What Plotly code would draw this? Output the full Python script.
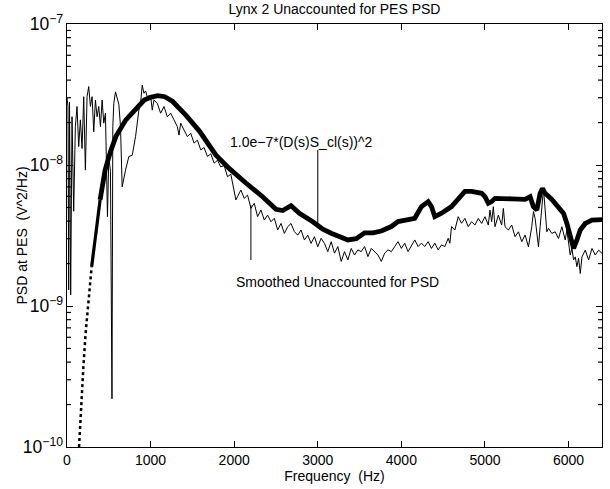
import numpy as np
import plotly.graph_objects as go

# ---- model curve: 1.0e-7*(D(s)S_cl(s))^2 ----
model_freq = [144, 172, 196, 223, 256, 295, 343, 396, 456, 516, 584, 704, 804, 924,
              1000, 1084, 1170, 1264, 1424, 1584, 1780, 1936, 2140, 2340, 2500, 2580,
              2680, 2780, 2940, 3060, 3160, 3360, 3460, 3560, 3660, 3760, 3880, 3960,
              4160, 4240, 4320, 4360, 4400, 4480, 4600, 4680, 4760, 4840, 4960, 5000,
              5040, 5080, 5120, 5320, 5480, 5540, 5580, 5620, 5660, 5688, 5720, 5800,
              5880, 5940, 5980, 6020, 6060, 6100, 6140, 6200, 6280, 6400]
model_psd = [1.0e-10, 2.15e-10, 3.7e-10, 6.45e-10, 1.10e-9, 1.90e-9, 3.3e-9, 5.65e-9,
             9.2e-9, 1.22e-8, 1.59e-8, 2.09e-8, 2.45e-8, 2.89e-8, 3.02e-8, 3.1e-8,
             3.05e-8, 2.82e-8, 2.25e-8, 1.74e-8, 1.18e-8, 9.5e-9, 7.45e-9, 5.96e-9,
             4.85e-9, 4.75e-9, 5.15e-9, 4.55e-9, 3.96e-9, 3.5e-9, 3.28e-9, 2.94e-9,
             3.0e-9, 3.3e-9, 3.3e-9, 3.4e-9, 3.66e-9, 3.97e-9, 4.19e-9, 5.07e-9, 5.5e-9,
             5.07e-9, 4.3e-9, 4.55e-9, 5.07e-9, 5.8e-9, 6.5e-9, 6.5e-9, 6.3e-9, 5.96e-9,
             5.35e-9, 5.5e-9, 5.8e-9, 5.75e-9, 5.7e-9, 5.96e-9, 5.06e-9, 4.79e-9, 6.3e-9,
             6.82e-9, 6.3e-9, 5.7e-9, 5.06e-9, 4.54e-9, 3.85e-9, 3.1e-9, 2.56e-9, 2.94e-9,
             3.46e-9, 3.85e-9, 4.07e-9, 4.1e-9]

# ---- smoothed unaccounted-for PSD ----
unacc_freq = [0, 12, 20, 30, 44, 60, 80, 100, 120, 140, 160, 180, 200, 220, 240, 260, 280,
              300, 320, 340, 360, 380, 400, 420, 440, 460, 484, 500, 520, 538, 548, 560,
              580, 600, 620, 640, 660, 700, 740, 780, 820, 860, 880, 900, 920, 940, 960,
              1000, 1020, 1040, 1080, 1120, 1160, 1200, 1240, 1280, 1320, 1340, 1360,
              1400, 1440, 1480, 1520, 1560, 1600, 1640, 1680, 1720, 1760, 1800, 1840,
              1880, 1920, 1960, 2000, 2020, 2040, 2080, 2120, 2160, 2200, 2240, 2280,
              2320, 2360, 2400, 2440, 2480, 2520, 2560, 2600, 2640, 2680, 2720, 2760,
              2800, 2840, 2880, 2920, 2960, 3000, 3040, 3080, 3120, 3160, 3200, 3240,
              3280, 3320, 3360, 3400, 3440, 3480, 3520, 3560, 3600, 3640, 3680, 3720,
              3760, 3800, 3840, 3880, 3920, 3960, 4000, 4040, 4080, 4120, 4160, 4200,
              4240, 4280, 4320, 4360, 4400, 4440, 4480, 4520, 4560, 4580, 4600, 4640,
              4680, 4720, 4760, 4800, 4840, 4880, 4920, 4960, 5000, 5040, 5060, 5080,
              5100, 5120, 5160, 5200, 5220, 5240, 5280, 5320, 5360, 5400, 5440, 5480,
              5520, 5560, 5580, 5600, 5620, 5640, 5660, 5700, 5720, 5740, 5760, 5800,
              5840, 5880, 5920, 5960, 5980, 6000, 6020, 6040, 6060, 6080, 6100, 6120,
              6140, 6160, 6200, 6240, 6280, 6320, 6360, 6400]
unacc_psd = [3.0e-8, 2.6e-8, 1.3e-9, 2.8e-8, 1.2e-9, 2.2e-8, 4.7e-9, 1.87e-8, 2.6e-8,
             1.35e-8, 2.09e-8, 1.31e-8, 3.05e-8, 9.2e-9, 3.05e-8, 3.6e-8, 2.6e-8, 3.05e-8,
             1.72e-8, 2.89e-8, 2.2e-8, 2.6e-8, 1.87e-8, 2.89e-8, 1.98e-8, 2.33e-8, 4.3e-9,
             1.15e-8, 9.0e-9, 2.2e-10, 1.87e-8, 2.74e-8, 3.3e-8, 3.0e-8, 2.7e-8, 1.87e-8,
             7.0e-9, 9.2e-9, 1.15e-8, 1.17e-8, 1.59e-8, 2.45e-8, 2.74e-8, 3.69e-8, 3.23e-8,
             3.35e-8, 3.05e-8, 3.1e-8, 2.45e-8, 2.89e-8, 2.74e-8, 2.33e-8, 2.6e-8, 2.2e-8,
             2.33e-8, 2.09e-8, 1.87e-8, 1.63e-8, 1.98e-8, 1.77e-8, 1.59e-8, 1.68e-8,
             1.43e-8, 1.5e-8, 1.28e-8, 1.33e-8, 1.15e-8, 1.2e-8, 1.03e-8, 1.08e-8, 9.7e-9,
             9.9e-9, 8.26e-9, 8.6e-9, 6.3e-9, 5.65e-9, 5.96e-9, 6.65e-9, 5.8e-9, 6.12e-9,
             4.93e-9, 5.35e-9, 4.3e-9, 4.8e-9, 4.07e-9, 4.41e-9, 3.96e-9, 4.19e-9, 3.46e-9,
             3.85e-9, 3.27e-9, 3.65e-9, 3.85e-9, 3.37e-9, 3.18e-9, 3.46e-9, 2.94e-9,
             3.18e-9, 2.78e-9, 3.1e-9, 2.63e-9, 3.02e-9, 2.78e-9, 2.43e-9, 2.86e-9,
             2.37e-9, 2.64e-9, 2.07e-9, 2.43e-9, 2.12e-9, 2.56e-9, 2.3e-9, 2.5e-9, 2.43e-9,
             2.64e-9, 2.24e-9, 2.56e-9, 2.43e-9, 2.3e-9, 2.07e-9, 2.37e-9, 2.5e-9, 2.43e-9,
             2.64e-9, 2.86e-9, 2.56e-9, 2.79e-9, 2.43e-9, 2.71e-9, 2.94e-9, 2.64e-9,
             2.79e-9, 2.64e-9, 2.86e-9, 2.56e-9, 2.79e-9, 2.5e-9, 2.71e-9, 2.64e-9, 3.02e-9,
             2.79e-9, 3.66e-9, 3.46e-9, 4.3e-9, 3.86e-9, 4.18e-9, 3.65e-9, 3.96e-9,
             3.75e-9, 4.18e-9, 3.85e-9, 4.3e-9, 3.75e-9, 4.79e-9, 3.96e-9, 5.06e-9,
             3.65e-9, 4.41e-9, 3.75e-9, 4.92e-9, 3.65e-9, 3.46e-9, 3.75e-9, 3.1e-9,
             3.36e-9, 2.86e-9, 3.19e-9, 2.63e-9, 3.65e-9, 4.67e-9, 4.18e-9, 3.1e-9,
             2.63e-9, 3.65e-9, 6.82e-9, 4.79e-9, 3.36e-9, 3.55e-9, 3.27e-9, 3.36e-9,
             3.01e-9, 3.65e-9, 2.94e-9, 3.46e-9, 2.78e-9, 2.3e-9, 2.56e-9, 2.12e-9,
             2.23e-9, 1.9e-9, 2.18e-9, 1.7e-9, 2.23e-9, 2.49e-9, 2.12e-9, 2.56e-9, 2.3e-9,
             2.49e-9, 2.36e-9]

# ---- text labels and leader lines ----
label_model = "1.0e\u22127*(D(s)S_cl(s))^2"
label_unacc = "Smoothed Unaccounted for PSD"
leader_model_x = [3000, 3000]
leader_model_y = [1.28e-8, 3.57e-9]
leader_unacc_x = [2200, 2200]
leader_unacc_y = [5.2e-9, 2.12e-9]
label_model_pos = (1924, 1.45e-8)
label_unacc_pos = (1998, 1.48e-9)

xticks = [0, 1000, 2000, 3000, 4000, 5000, 6000]
y_log_range = [-10, -7]
y_decades = [-10, -9, -8]
minor_mult = [2, 3, 4, 5, 6, 7, 8, 9]

FONT = "Liberation Sans, Arial, Helvetica, sans-serif"
PLOT_W = 535  # plot-area width in px

split = 6  # low-frequency part of the model looks dotted (sparse markers)

fig = go.Figure()
fig.add_trace(go.Scatter(x=unacc_freq, y=unacc_psd, mode="lines",
                         line=dict(color="black", width=1), showlegend=False))
fig.add_trace(go.Scatter(x=model_freq[:split], y=model_psd[:split], mode="lines",
                         line=dict(color="black", width=2.5, dash="dot"), showlegend=False))
fig.add_trace(go.Scatter(x=model_freq[split - 1:split + 2], y=model_psd[split - 1:split + 2],
                         mode="lines", line=dict(color="black", width=3.2), showlegend=False))
fig.add_trace(go.Scatter(x=model_freq[split + 1:], y=model_psd[split + 1:], mode="lines",
                         line=dict(color="black", width=4.8), showlegend=False))
fig.add_trace(go.Scatter(x=leader_model_x, y=leader_model_y, mode="lines",
                         line=dict(color="black", width=1), showlegend=False))
fig.add_trace(go.Scatter(x=leader_unacc_x, y=leader_unacc_y, mode="lines",
                         line=dict(color="black", width=1), showlegend=False))

fig.add_annotation(x=label_model_pos[0], y=np.log10(label_model_pos[1]), text=label_model,
                   showarrow=False, xanchor="left", yanchor="middle",
                   font=dict(family=FONT, size=14, color="black"))
fig.add_annotation(x=label_unacc_pos[0], y=np.log10(label_unacc_pos[1]), text=label_unacc,
                   showarrow=False, xanchor="left", yanchor="middle",
                   font=dict(family=FONT, size=14, color="black"))
fig.add_annotation(xref="paper", yref="paper", x=(21 - 67) / PLOT_W, y=0.5,
                   text="PSD at PES\u00a0 (V^2/Hz)", textangle=-90, showarrow=False,
                   xanchor="center", yanchor="middle",
                   font=dict(family=FONT, size=14, color="black"))

# minor log ticks (inside) on left and right frame edges
tick_px = 4
span = y_log_range[1] - y_log_range[0]
for d in y_decades:
    for m in minor_mult:
        yf = (np.log10(m * 10.0 ** d) - y_log_range[0]) / span
        fig.add_shape(type="line", xref="paper", yref="paper", layer="above",
                      x0=0, x1=tick_px / PLOT_W, y0=yf, y1=yf,
                      line=dict(color="black", width=1.2))
        fig.add_shape(type="line", xref="paper", yref="paper", layer="above",
                      x0=1 - tick_px / PLOT_W, x1=1, y0=yf, y1=yf,
                      line=dict(color="black", width=1.2))

fig.update_layout(
    width=610, height=489,
    margin=dict(l=67, r=8, t=24, b=42),
    paper_bgcolor="white", plot_bgcolor="white",
    font=dict(family=FONT, size=14, color="black"),
    title=dict(text="Lynx 2 Unaccounted for PES PSD", x=0.5484, xanchor="center",
               y=0.981, yanchor="middle", font=dict(family=FONT, size=14)),
    showlegend=False,
)
fig.update_xaxes(
    range=[0, 6400], tickvals=xticks, ticktext=[str(v) for v in xticks],
    ticks="inside", ticklen=6, tickwidth=1.2, tickcolor="black", showline=True,
    linecolor="black", linewidth=1.2, mirror="ticks", showgrid=False, zeroline=False,
    title=dict(text="Frequency\u00a0 (Hz)", standoff=4, font=dict(size=14)),
    tickfont=dict(size=14),
)
fig.update_yaxes(
    type="log", range=y_log_range, dtick=1, exponentformat="power",
    ticks="inside", ticklen=6, tickwidth=1.2, tickcolor="black", showline=True,
    linecolor="black", linewidth=1.2, mirror="ticks", showgrid=False, zeroline=False,
    tickfont=dict(size=14),
)

fig.write_html("out.html")
